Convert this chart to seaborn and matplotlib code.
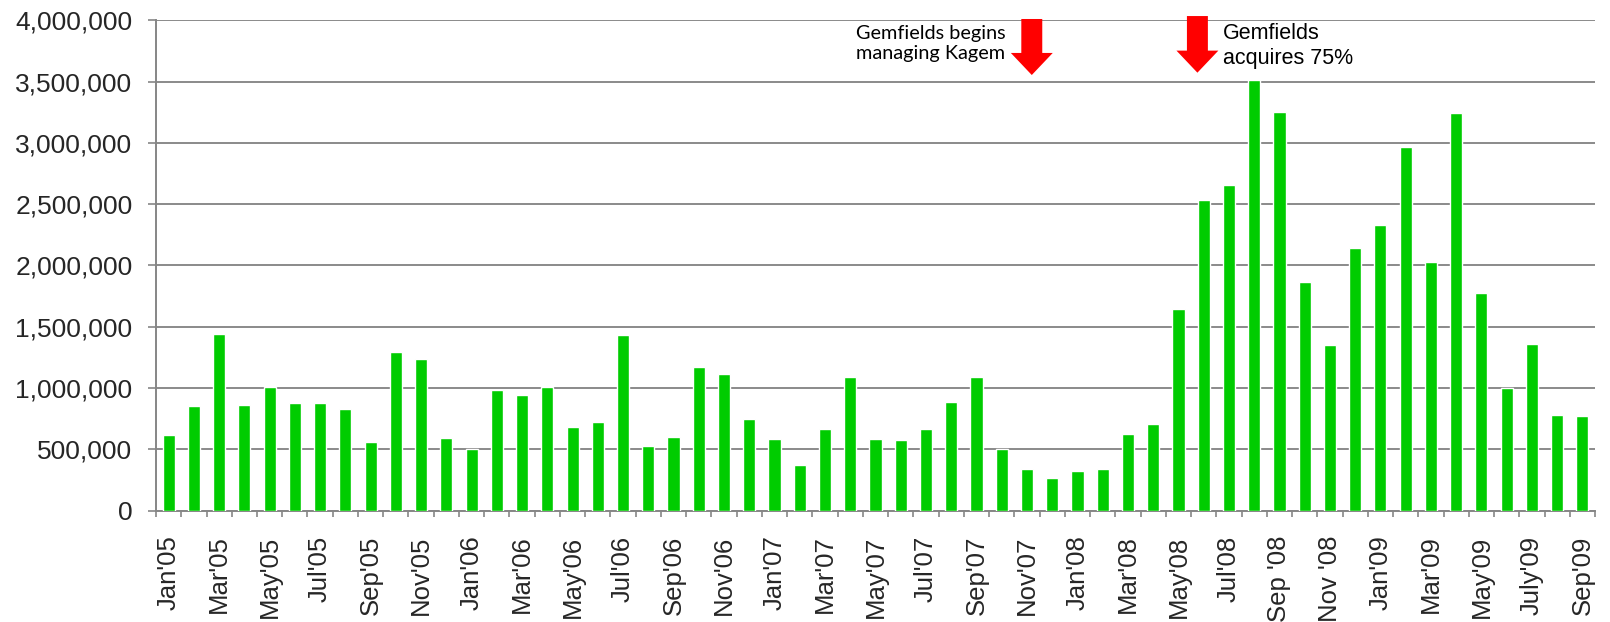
import matplotlib
matplotlib.use('Agg')
import matplotlib.pyplot as plt
import seaborn as sns
import pandas as pd
import numpy as np
from matplotlib.patches import FancyArrow
from matplotlib.ticker import FuncFormatter

month_abbr = ['Jan', 'Feb', 'Mar', 'Apr', 'May', 'Jun', 'Jul', 'Aug', 'Sep', 'Oct', 'Nov', 'Dec']
years = ['05', '06', '07', '08', '09']
months = [f"{m}'{y}" for y in years for m in month_abbr][:57]  # Jan'05 .. Sep'09

values = [614000, 851000, 1440000, 859000, 1006000, 875000, 878000, 829000, 562000, 1294000,
          1237000, 592000, 505000, 984000, 945000, 1006000, 679000, 723000, 1430000, 527000,
          598000, 1174000, 1114000, 747000, 584000, 372000, 665000, 1092000, 581000, 573000,
          668000, 883000, 1087000, 500000, 337000, 263000, 320000, 337000, 627000, 704000,
          1647000, 2534000, 2658000, 3515000, 3249000, 1862000, 1348000, 2142000, 2332000, 2963000,
          2028000, 3243000, 1772000, 998000, 1362000, 777000, 772000]

tick_labels = ["Jan'05", "Mar'05", "May'05", "Jul'05", "Sep'05", "Nov'05",
               "Jan'06", "Mar'06", "May'06", "Jul'06", "Sep'06", "Nov'06",
               "Jan'07", "Mar'07", "May'07", "Jul'07", "Sep'07", "Nov'07",
               "Jan'08", "Mar'08", "May'08", "Jul'08", "Sep '08", "Nov '08",
               "Jan'09", "Mar'09", "May'09", "July'09", "Sep'09"]

y_ticks = [0, 500000, 1000000, 1500000, 2000000, 2500000, 3000000, 3500000, 4000000]

note1 = "Gemfields begins\nmanaging Kagem"
note2 = "Gemfields\nacquires 75%"

sns.set_theme(style='white')
plt.rcParams['font.family'] = ['Liberation Sans', 'DejaVu Sans']

fig = plt.figure(figsize=(16.1, 6.22), dpi=100)
ax = fig.add_axes([0.0969, 0.1791, 0.8938, 0.7884])

df = pd.DataFrame({'month': months, 'value': values})
sns.barplot(data=df, x='month', y='value', color='#00CC00', saturation=1,
            width=0.48, ax=ax, zorder=3)

axis_gray = '#868686'
ax.set_xlim(-0.5, len(months) - 0.5)
ax.set_ylim(0, 4000000)
ax.set_yticks(y_ticks)
ax.yaxis.set_major_formatter(FuncFormatter(lambda v, p: f'{int(v):,}'))
ax.yaxis.grid(True, color='#8a8a8a', lw=1.4, zorder=0)
ax.xaxis.grid(False)
ax.set_axisbelow(True)

ax.set_xticks(np.arange(0, len(months), 2))
ax.set_xticklabels(tick_labels, rotation=90)
ax.set_xticks(np.arange(-0.5, len(months), 1), minor=True)

ax.tick_params(axis='x', which='major', length=0, pad=18, labelsize=18.5, bottom=True)
ax.tick_params(axis='x', which='minor', length=4.5, width=1.2, color=axis_gray, bottom=True)
ax.tick_params(axis='y', which='major', length=6, width=1.2, color=axis_gray, left=True,
               pad=11, labelsize=19)

for s in ['top', 'right']:
    ax.spines[s].set_visible(False)
for s in ['left', 'bottom']:
    ax.spines[s].set_color(axis_gray)
    ax.spines[s].set_linewidth(1.4)
ax.set_xlabel('')
ax.set_ylabel('')

# Event arrows
for xc, ytop, ybot in [(34.19, 4010000, 3553000), (40.75, 4034000, 3572000)]:
    arr = FancyArrow(xc, ytop, 0, -(ytop - ybot), width=0.83, head_width=1.66,
                     head_length=180000, length_includes_head=True,
                     color='#FF0000', lw=0, clip_on=False, zorder=5)
    ax.add_patch(arr)

ax.text(27.24, 3810000, note1, fontsize=14.3, family=['Lato', 'DejaVu Sans'],
        ha='left', va='center', linespacing=1.25, color='black')
ax.text(41.75, 3790000, note2, fontsize=15.5, ha='left', va='center',
        linespacing=1.2, color='black')

fig.savefig('out.png', dpi=100)
